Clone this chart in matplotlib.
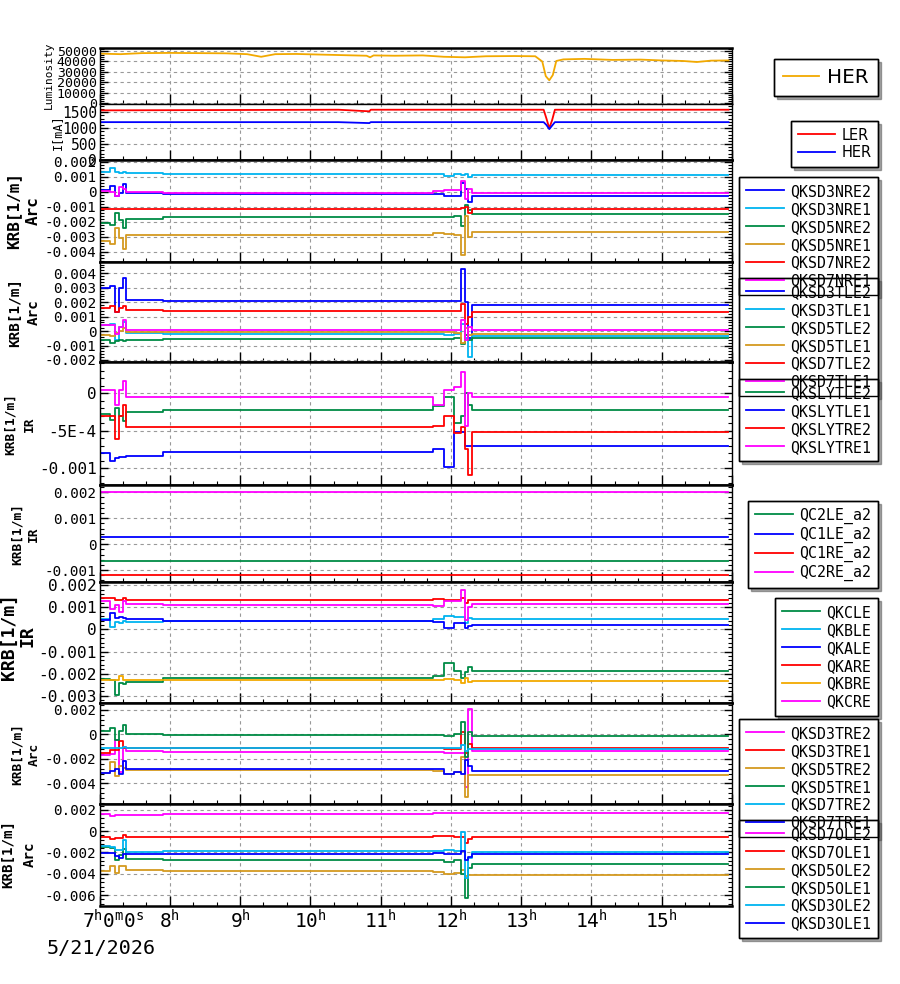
import matplotlib
matplotlib.use('Agg')
import matplotlib.pyplot as plt
import matplotlib.transforms as mtransforms
from matplotlib.ticker import MultipleLocator, AutoMinorLocator, FuncFormatter, FixedLocator
import numpy as np

plt.rcParams['font.family'] = 'DejaVu Sans Mono'
plt.rcParams['mathtext.fontset'] = 'custom'
plt.rcParams['mathtext.rm'] = 'DejaVu Sans Mono'

# ---- data ----
date_label = '5/21/2026'
hour_labels = [8, 9, 10, 11, 12, 13, 14, 15]

# luminosity (HER)
lum_t = [7.0, 7.3, 7.6, 8.0, 8.4, 8.8, 9.1, 9.3, 9.5, 9.8, 10.2, 10.5, 10.8, 10.85, 10.9,
         11.2, 11.6, 11.9, 12.2, 12.5, 12.9, 13.2, 13.3, 13.35, 13.4, 13.45, 13.5, 13.6,
         13.9, 14.3, 14.7, 15.0, 15.3, 15.5, 15.7, 15.95]
lum_her = [47500, 47000, 48000, 48200, 48000, 47800, 47000, 44500, 47000, 47200, 46500,
           46000, 45500, 44000, 45800, 45500, 45800, 44500, 44000, 45000, 45200, 45000,
           40000, 26000, 22000, 27000, 40500, 42000, 42500, 41500, 41800, 41000, 40500,
           39500, 40800, 41000]

# beam currents [mA]
cur_t = [7.0, 10.4, 10.84, 10.86, 13.32, 13.36, 13.40, 13.44, 13.48, 15.95]
cur_ler = [1560, 1580, 1530, 1580, 1580, 1300, 1000, 1250, 1580, 1580]
cur_her = [1190, 1190, 1160, 1190, 1190, 1100, 970, 1080, 1190, 1190]

# KRB set values, step times [h], values in 1e-3 /m
krb_t = [7.00, 7.15, 7.22, 7.28, 7.33, 7.38, 7.90, 11.75, 11.90, 12.05, 12.15, 12.20, 12.25, 12.30, 15.95]

qksd3nre2 = [0.1, 0.4, -0.3, -0.1, 0.5, -0.1, -0.15, -0.15, -0.3, -0.25, 0.6, 0.2, -0.7, -0.3]
qksd3nre1 = [1.3, 1.6, 1.3, 1.25, 1.35, 1.25, 1.2, 1.2, 1.05, 1.2, 1.1, 1.2, 1.0, 1.1]
qksd5nre2 = [-2.05, -2.2, -1.4, -1.9, -2.4, -1.8, -1.7, -1.7, -1.65, -1.6, -2.3, -0.9, -1.2, -1.5]
qksd5nre1 = [-3.3, -3.5, -2.4, -3.1, -3.8, -2.9, -2.9, -2.75, -2.8, -2.9, -4.2, -1.6, -3.0, -2.7]
qksd7nre2 = [-1.15, -1.15, -1.15, -1.15, -1.15, -1.15, -1.15, -1.15, -1.15, -1.15, -1.1, -1.0, -1.4, -1.15]
qksd7nre1 = [0.05, 0.0, -0.3, 0.3, 0.2, 0.0, -0.05, 0.05, 0.1, 0.1, 0.7, -0.5, 0.2, -0.05]

qksd3tle2 = [3.0, 3.1, 1.3, 3.0, 3.7, 2.15, 2.1, 2.05, 2.05, 2.1, 4.3, 2.0, -0.5, 1.8]
qksd3tle1 = [0.4, 0.5, -0.6, 0.3, 0.6, -0.1, -0.2, -0.2, -0.3, -0.2, 0.5, -0.5, -1.8, -0.35]
qksd5tle2 = [-0.6, -0.8, -0.7, -0.6, -0.7, -0.6, -0.55, -0.55, -0.52, -0.5, -0.9, -0.3, -0.6, -0.48]
qksd5tle1 = [-0.3, -0.35, -0.1, 0.0, 0.2, -0.05, -0.05, -0.05, -0.05, -0.1, -0.8, 0.2, -0.3, -0.2]
qksd7tle2 = [1.6, 1.75, 1.3, 1.6, 1.75, 1.45, 1.4, 1.38, 1.36, 1.4, 1.9, 0.5, 1.0, 1.35]
qksd7tle1 = [0.4, 0.45, -0.2, 0.3, 0.75, 0.05, 0.05, 0.05, 0.05, 0.05, 0.8, -0.6, 0.3, 0.05]

qkslytle2 = [-0.27, -0.36, -0.2, -0.3, -0.37, -0.25, -0.22, -0.17, -0.05, -0.4, -0.3, 0.0, -0.15, -0.22]
qkslytle1 = [-0.8, -0.9, -0.87, -0.85, -0.85, -0.845, -0.79, -0.75, -0.98, -0.52, -0.52, -0.7, -0.7, -0.7]
qkslytre2 = [-0.3, -0.3, -0.61, -0.3, -0.16, -0.45, -0.45, -0.44, -0.3, -0.53, -0.45, -0.75, -1.09, -0.52]
qkslytre1 = [0.05, 0.05, -0.16, 0.05, 0.16, -0.05, -0.05, -0.15, 0.05, 0.09, 0.29, -0.44, 0.0, -0.05]

qc_t = [7.0, 15.95]
qc2le_a2 = [-0.65, -0.65]
qc1le_a2 = [0.26, 0.26]
qc1re_a2 = [-1.19, -1.19]
qc2re_a2 = [2.01, 2.01]

qkcle = [-2.25, -2.3, -2.96, -2.43, -2.45, -2.36, -2.2, -2.1, -1.53, -1.86, -2.2, -1.9, -1.7, -1.86]
qkble = [0.45, 0.12, 0.35, 0.3, 0.4, 0.34, 0.4, 0.45, 0.6, 0.55, 0.55, 0.3, 0.5, 0.47]
qkale = [0.42, 0.72, 0.5, 0.55, 0.5, 0.45, 0.4, 0.32, 0.05, 0.3, 0.3, 0.05, 0.15, 0.22]
qkare = [1.4, 1.42, 1.35, 1.35, 1.4, 1.35, 1.35, 1.38, 1.32, 1.33, 1.42, 1.2, 1.35, 1.35]
qkbre = [-2.28, -2.3, -2.28, -2.1, -2.3, -2.3, -2.28, -2.28, -2.25, -2.28, -2.4, -2.2, -2.35, -2.31]
qkcre = [1.29, 0.9, 1.1, 0.8, 1.3, 1.14, 1.1, 1.05, 1.28, 1.28, 1.77, 0.42, 1.0, 1.14]

qksd3tre2 = [-1.7, -1.58, -0.49, -3.1, -1.0, -1.38, -1.42, -1.45, -1.55, -1.5, -1.5, -4.3, 2.1, -1.36]
qksd3tre1 = [-1.52, -1.3, -1.3, -0.5, -1.1, -1.08, -1.08, -1.08, -1.2, -1.2, 0.2, -1.5, -0.8, -1.08]
qksd5tre2 = [-3.15, -2.25, -3.4, -2.6, -2.7, -2.87, -2.9, -2.95, -3.2, -3.1, -1.84, -5.1, -3.3, -3.33]
qksd5tre1 = [0.27, 0.54, -0.43, 0.3, 0.81, 0.0, -0.08, -0.05, -0.15, 0.0, 1.0, -1.84, 0.2, -0.16]
qksd7tre2 = [-1.11, -1.11, -1.11, -1.11, -1.0, -1.11, -1.11, -1.11, -1.12, -1.1, -0.9, -1.35, -1.2, -1.2]
qksd7tre1 = [-3.15, -2.95, -2.8, -3.2, -2.2, -2.8, -2.85, -2.85, -3.2, -3.05, -3.2, -2.1, -2.6, -3.0]

qksd7ole2 = [1.63, 1.4, 1.5, 1.5, 1.55, 1.53, 1.6, 1.75, 1.72, 1.72, 1.72, 1.72, 1.72, 1.72]
qksd7ole1 = [-0.5, -0.7, -0.6, -0.65, -0.35, -0.56, -0.56, -0.45, -0.45, -0.56, -0.56, -1.1, -0.7, -0.56]
qksd5ole2 = [-3.74, -3.3, -3.9, -3.3, -3.3, -3.67, -3.75, -3.8, -4.05, -3.95, -3.6, -4.2, -4.1, -4.08]
qksd5ole1 = [-1.5, -1.6, -2.7, -2.2, -1.7, -2.58, -2.7, -2.75, -2.85, -2.75, -4.0, -6.3, -3.5, -3.05]
qksd3ole2 = [-1.43, -1.5, -1.8, -1.8, -0.8, -1.96, -1.9, -1.85, -1.75, -1.9, -0.1, -4.4, -2.5, -1.96]
qksd3ole1 = [-2.02, -2.02, -2.3, -2.5, -2.1, -2.1, -2.1, -2.05, -2.15, -2.1, -1.9, -2.7, -2.4, -2.18]

# ---- style ----
BLUE = '#0000ff'
CYAN = '#00b4f0'
GREEN = '#008b45'
GOLD = '#d49a20'
ORANGE = '#f2a900'
RED = '#ff0000'
MAG = '#ff00ff'

W, H = 900, 984
fig = plt.figure(figsize=(W / 100, H / 100), dpi=100)

edges = [48, 104, 160, 262, 362, 484.5, 582, 703, 803.5, 905.5]
L, R = 99.5, 732
axes = []
for i in range(9):
    top, bot = edges[i], edges[i + 1]
    axes.append(fig.add_axes([L / W, 1 - bot / H, (R - L) / W, (bot - top) / H]))


def fmt(v, pos):
    v = round(v, 7)
    if abs(v) < 1e-12:
        return '0'
    return '%g' % v


def fmt_sly(v, pos):
    v = round(v, 7)
    if abs(v) < 1e-12:
        return '0'
    if abs(v + 0.0005) < 1e-9:
        return '-5E-4'
    return '%g' % v


def style(ax, ylim, step, fs, formatter=fmt):
    ax.set_xlim(7.0, 16.0)
    ax.set_ylim(*ylim)
    ax.xaxis.set_major_locator(FixedLocator(range(7, 17)))
    ax.xaxis.set_minor_locator(MultipleLocator(1 / 3))
    ax.yaxis.set_major_locator(MultipleLocator(step))
    ax.yaxis.set_minor_locator(AutoMinorLocator(5))
    ax.yaxis.set_major_formatter(FuncFormatter(formatter))
    ax.tick_params(axis='y', which='both', direction='in', left=True, right=True, labelsize=fs, pad=2)
    ax.tick_params(axis='y', which='major', length=6, width=1)
    ax.tick_params(axis='y', which='minor', length=3, width=0.8)
    ax.tick_params(axis='x', which='both', direction='in', bottom=True, top=False, labelbottom=False)
    ax.tick_params(axis='x', which='major', length=7, width=1)
    ax.tick_params(axis='x', which='minor', length=3, width=0.8)
    ax.grid(True, which='major', color='#999999', linestyle=(0, (3, 3)), linewidth=0.8)
    for s in ['top', 'bottom']:
        ax.spines[s].set_linewidth(1.8)
    for s in ['left', 'right']:
        ax.spines[s].set_linewidth(1.0)


def legend(ax, top_px, fs=10.7, family='DejaVu Sans Mono', hl=2.6, bp=0.45):
    # white box + shadow under the axes' legend, entries redrawn on top so that
    # overlapping boxes keep all their entries visible
    h, l = ax.get_legend_handles_labels()
    kw = dict(loc='upper right', bbox_to_anchor=(878 / W, 1 - top_px / H),
              bbox_transform=fig.transFigure, borderaxespad=0, fancybox=False,
              edgecolor='black', prop={'family': family, 'size': fs}, handlelength=hl,
              handletextpad=0.4, labelspacing=0.2, borderpad=bp, framealpha=1)
    bg = ax.legend(h, l, shadow=True, **kw)
    bg.get_frame().set_linewidth(1.0)
    for t in bg.get_texts():
        t.set_alpha(0)
    for ln in bg.get_lines():
        ln.set_alpha(0)
    fg = fig.legend(h, l, shadow=False, **kw)
    fg.get_frame().set_facecolor('none')
    fg.get_frame().set_linewidth(1.0)


def steps(ax, names, series, colors):
    for n, s, c in zip(names, series, colors):
        v = np.array(s + [s[-1]]) * 1e-3
        ax.plot(krb_t, v, drawstyle='steps-post', color=c, lw=1.3, label=n)


# panel 1: luminosity
ax = axes[0]
ax.plot(lum_t, lum_her, color=ORANGE, lw=1.3, label='HER')
style(ax, (-700, 52900), 10000, 9.5)
ax.spines['bottom'].set_linewidth(1.0)
legend(ax, 59, fs=14.4, family='DejaVu Sans', hl=1.8, bp=0.45)

# panel 2: currents
ax = axes[1]
ax.plot(cur_t, cur_ler, color=RED, lw=1.3, label='LER')
ax.plot(cur_t, cur_her, color=BLUE, lw=1.3, label='HER')
style(ax, (0, 1760), 500, 10.5)
ax.spines['top'].set_linewidth(1.0)
legend(ax, 121, fs=10.5, family='DejaVu Sans')

six = [BLUE, CYAN, GREEN, GOLD, RED, MAG]

# panel 3: arc NRE
ax = axes[2]
steps(ax, ['QKSD3NRE2', 'QKSD3NRE1', 'QKSD5NRE2', 'QKSD5NRE1', 'QKSD7NRE2', 'QKSD7NRE1'],
      [qksd3nre2, qksd3nre1, qksd5nre2, qksd5nre1, qksd7nre2, qksd7nre1], six)
style(ax, (-0.00467, 0.00213), 0.001, 10.4)
legend(ax, 177)

# panel 4: arc TLE
ax = axes[3]
steps(ax, ['QKSD3TLE2', 'QKSD3TLE1', 'QKSD5TLE2', 'QKSD5TLE1', 'QKSD7TLE2', 'QKSD7TLE1'],
      [qksd3tle2, qksd3tle1, qksd5tle2, qksd5tle1, qksd7tle2, qksd7tle1], six)
style(ax, (-0.00214, 0.00478), 0.001, 10.4)
legend(ax, 278)

# panel 5: IR SLY
ax = axes[4]
steps(ax, ['QKSLYTLE2', 'QKSLYTLE1', 'QKSLYTRE2', 'QKSLYTRE1'],
      [qkslytle2, qkslytle1, qkslytre2, qkslytre1], [GREEN, BLUE, RED, MAG])
style(ax, (-0.00122, 0.00042), 0.0005, 11.5, fmt_sly)
legend(ax, 379)

# panel 6: IR QC
ax = axes[5]
for n, s, c in zip(['QC2LE_a2', 'QC1LE_a2', 'QC1RE_a2', 'QC2RE_a2'],
                   [qc2le_a2, qc1le_a2, qc1re_a2, qc2re_a2], [GREEN, BLUE, RED, MAG]):
    ax.plot(qc_t, np.array(s) * 1e-3, color=c, lw=1.3, label=n)
style(ax, (-0.00146, 0.0023), 0.001, 10.3)
legend(ax, 501)

# panel 7: IR QK
ax = axes[6]
steps(ax, ['QKCLE', 'QKBLE', 'QKALE', 'QKARE', 'QKBRE', 'QKCRE'],
      [qkcle, qkble, qkale, qkare, qkbre, qkcre], [GREEN, CYAN, BLUE, RED, ORANGE, MAG])
style(ax, (-0.00332, 0.00214), 0.001, 11.6)
legend(ax, 598)

# panel 8: arc TRE
ax = axes[7]
steps(ax, ['QKSD3TRE2', 'QKSD3TRE1', 'QKSD5TRE2', 'QKSD5TRE1', 'QKSD7TRE2', 'QKSD7TRE1'],
      [qksd3tre2, qksd3tre1, qksd5tre2, qksd5tre1, qksd7tre2, qksd7tre1],
      [MAG, RED, GOLD, GREEN, CYAN, BLUE])
style(ax, (-0.00564, 0.00257), 0.002, 10.3)
legend(ax, 719)

# panel 9: arc OLE
ax = axes[8]
steps(ax, ['QKSD7OLE2', 'QKSD7OLE1', 'QKSD5OLE2', 'QKSD5OLE1', 'QKSD3OLE2', 'QKSD3OLE1'],
      [qksd7ole2, qksd7ole1, qksd5ole2, qksd5ole1, qksd3ole2, qksd3ole1],
      [MAG, RED, GOLD, GREEN, CYAN, BLUE])
style(ax, (-0.00698, 0.0026), 0.002, 10.3)
legend(ax, 820)

# time axis labels on bottom panel
ax.tick_params(axis='x', labelbottom=True, labelsize=14, pad=3)
ax.set_xticks(range(7, 16))
ax.set_xticklabels([''] + ['%d$^{\\mathrm{h}}$' % h for h in hour_labels])
off = mtransforms.offset_copy(ax.get_xaxis_transform(), fig=fig, x=-17, y=-4, units='dots')
ax.text(7.0, 0, '7$^{\\mathrm{h}}$0$^{\\mathrm{m}}$0$^{\\mathrm{s}}$', transform=off,
        ha='left', va='top', fontsize=14)
fig.text(47 / W, 1 - 949 / H, date_label, ha='left', va='center', fontsize=14.5)

# y labels
fig.text(49 / W, 1 - 75 / H, 'Luminosity', rotation=90, ha='center', va='center', fontsize=8)
fig.text(57 / W, 1 - 132 / H, 'I[mA]', rotation=90, ha='center', va='center', fontsize=8.5)
ylabels = [(14, 33, 211, 11.5, 'Arc'), (15, 34, 312, 10.3, 'Arc'), (10, 29, 424, 9.3, 'IR'),
           (17.5, 33, 534, 9.3, 'IR'), (9, 28, 636, 13.0, 'IR'), (17, 34, 754, 9.3, 'Arc'),
           (8, 30, 854, 10.2, 'Arc')]
for x1, x2, yc, fs, sub in ylabels:
    fig.text(x1 / W, 1 - yc / H, 'KRB[1/m]', rotation=90, ha='center', va='center',
             fontsize=fs, fontweight='bold')
    fig.text(x2 / W, 1 - yc / H, sub, rotation=90, ha='center', va='center',
             fontsize=fs, fontweight='bold')

fig.savefig('out.png', dpi=100)
